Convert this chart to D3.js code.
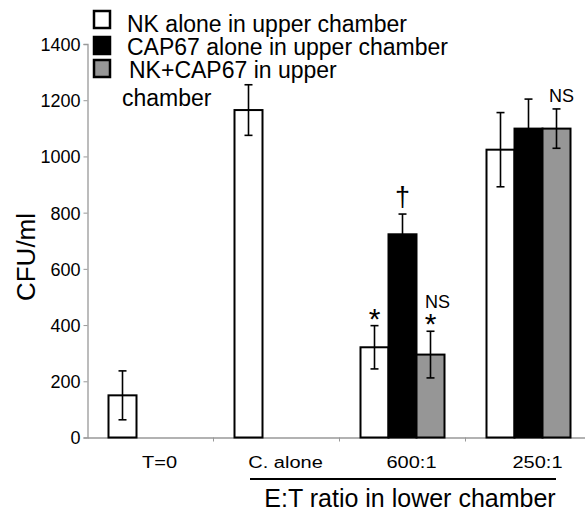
<!DOCTYPE html>
<html><head><meta charset="utf-8">
<script src="https://cdn.jsdelivr.net/npm/d3@7"></script>
<style>body{margin:0;background:#fff}svg{display:block}text{font-family:"Liberation Sans",Arial,sans-serif}</style>
</head><body><svg id="c" width="585" height="514"></svg>
<script>
const categories = ["T=0", "C. alone", "600:1", "250:1"];
const seriesNames = ["NK alone in upper chamber", "CAP67 alone in upper chamber", "NK+CAP67 in upper chamber"];
const legendLines = ["NK alone in upper chamber", "CAP67 alone in upper chamber", "NK+CAP67 in upper", "chamber"];
const seriesColors = ["#ffffff", "#000000", "#969696"];
// values per series per category (null = not measured)
const nkAlone   = [150, 1165, 321, 1024];
const cap67     = [null, null, 723, 1099];
const nkCap67   = [null, null, 295, 1099];
const nkErr     = [87, 90, 77, 132];
const capErr    = [null, null, 72, 105];
const bothErr   = [null, null, 83, 70];
const yTicks = [0, 200, 400, 600, 800, 1000, 1200, 1400];
const annotations = [
  {cat: "600:1", s: 0, text: "*"},
  {cat: "600:1", s: 1, text: "\u2020"},
  {cat: "600:1", s: 2, text: "*"},
  {cat: "600:1", s: 2, text: "NS", above: true},
  {cat: "250:1", s: 2, text: "NS"}
];

const svg = d3.select("#c");
const pL = 87.5, pR = 591.5, pT = 44, pB = 437.5;
const x = d3.scaleBand().domain(categories).range([pL, pR]).paddingInner(0).paddingOuter(0);
const xs = d3.scaleBand().domain([0,1,2]).range([0, 84]);
const y = d3.scaleLinear().domain([0, 1400]).range([pB, pT]);
const values = [nkAlone, cap67, nkCap67];
const errs = [nkErr, capErr, bothErr];
const groupOffset = (x.bandwidth() - 84) / 2;

// axes
const yAxis = svg.append("g").attr("transform", `translate(${pL},0)`)
  .call(d3.axisLeft(y).tickValues(yTicks).tickSize(4).tickPadding(3).tickFormat(d3.format("d")));
yAxis.select(".domain").attr("stroke", "#999").attr("stroke-width", 1.3);
yAxis.selectAll(".tick line").attr("stroke", "#999");
yAxis.selectAll("text").attr("font-size", 18).attr("fill", "#000").attr("dy", "0.36em");

const xAxis = svg.append("g").attr("transform", `translate(0,${pB})`)
  .call(d3.axisBottom(x).tickSize(0).tickPadding(19));
xAxis.select(".domain").attr("stroke", "#999").attr("stroke-width", 1.3);
xAxis.selectAll("text").attr("font-size", 16).attr("fill", "#000")
  .attr("transform", "translate(9,0) scale(1.25,1)");
// category separator ticks
svg.selectAll(".sep").data(categories.slice(1)).enter().append("line")
  .attr("x1", d => x(d)).attr("x2", d => x(d))
  .attr("y1", pB).attr("y2", pB + 4).attr("stroke", "#999");

// bars
const bars = [];
values.forEach((arr, s) => arr.forEach((v, i) => {
  if (v != null) bars.push({s, cat: categories[i], v, e: errs[s][i]});
}));
const bx = d => x(d.cat) + groupOffset + xs(d.s);
svg.selectAll(".bar").data(bars).enter().append("rect")
  .attr("x", bx).attr("width", xs.bandwidth())
  .attr("y", d => y(d.v)).attr("height", d => pB - y(d.v))
  .attr("fill", d => seriesColors[d.s]).attr("stroke", "#000").attr("stroke-width", 2);

// error bars
const eb = svg.append("g").attr("stroke", "#000").attr("stroke-width", 1.6);
bars.forEach(d => {
  const cx = bx(d) + xs.bandwidth() / 2;
  eb.append("line").attr("x1", cx).attr("x2", cx).attr("y1", y(d.v + d.e)).attr("y2", y(d.v - d.e));
  [d.v + d.e, d.v - d.e].forEach(t => eb.append("line").attr("x1", cx - 4).attr("x2", cx + 4).attr("y1", y(t)).attr("y2", y(t)));
});

// annotations
annotations.forEach(a => {
  const d = bars.find(b => b.cat === a.cat && b.s === a.s);
  const cx = bx(d) + xs.bandwidth() / 2;
  const et = y(d.v + d.e);
  let ty, size, dx = 0;
  if (a.text === "*") { ty = et + 3; size = 30; }
  else if (a.text === "\u2020") { ty = et - 8; size = 27; }
  else if (a.above) { ty = et - 23; size = 18; dx = 7; }
  else { ty = et - 7; size = 18; dx = 5; }
  svg.append("text").attr("x", cx + dx).attr("y", ty)
    .attr("text-anchor", "middle").attr("font-size", size).text(a.text);
});

// y label
svg.append("text").attr("transform", "translate(35,257) rotate(-90)")
  .attr("text-anchor", "middle").attr("font-size", 26).text("CFU/ml");

// x group label
svg.append("line").attr("x1", 250).attr("x2", 556).attr("y1", 479).attr("y2", 479)
  .attr("stroke", "#000").attr("stroke-width", 2);
svg.append("text").attr("x", 410).attr("y", 507).attr("text-anchor", "middle")
  .attr("font-size", 25).text("E:T ratio in lower chamber");

// legend
const leg = svg.append("g");
const legY = [11, 37, 60];
seriesNames.forEach((n, i) => {
  leg.append("rect").attr("x", 94).attr("y", legY[i]).attr("width", 16).attr("height", 17)
    .attr("fill", seriesColors[i]).attr("stroke", "#000").attr("stroke-width", 2.5);
});
const legX = [127, 127, 129, 122];
const legB = [31.5, 54.5, 78, 106];
legendLines.forEach((t, i) => {
  leg.append("text").attr("x", legX[i]).attr("y", legB[i]).attr("font-size", 23).text(t);
});
</script></body></html>
